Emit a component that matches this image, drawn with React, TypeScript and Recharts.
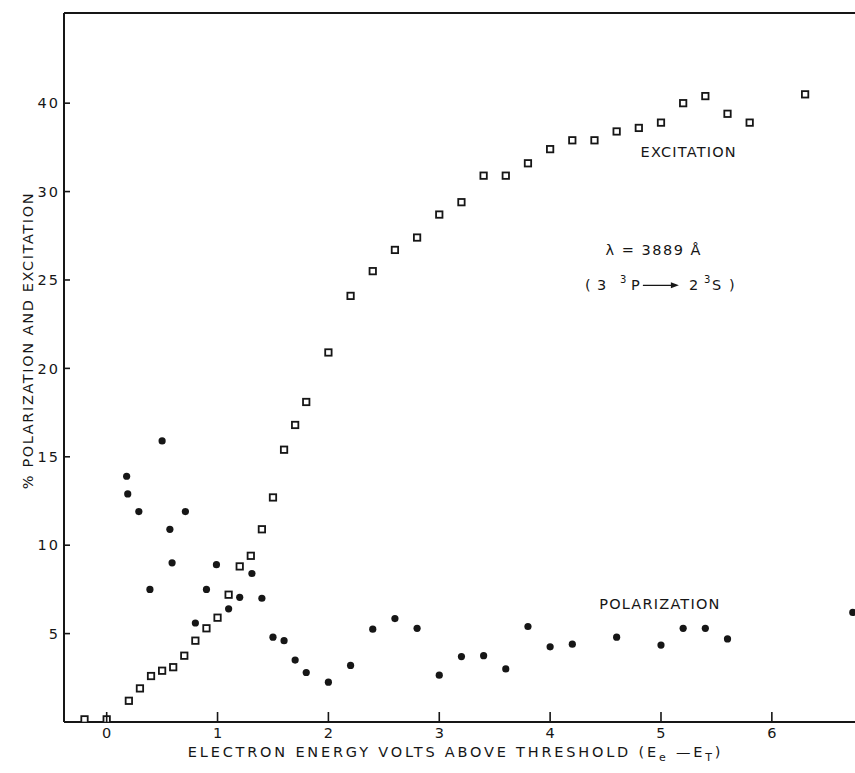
import { ScatterChart, Scatter, XAxis, YAxis, ReferenceLine, ReferenceDot } from 'recharts'

const INK = '#161616'
const FONT = '"DejaVu Sans", sans-serif'

// ── data (y is in plot units: the top tick sits at 35 but is printed "40") ──
const excitationEnergy = [
  -0.2, 0, 0.2, 0.3, 0.4, 0.5, 0.6, 0.7, 0.8, 0.9,
  1.0, 1.1, 1.2, 1.3, 1.4, 1.5, 1.6, 1.7, 1.8,
  2.0, 2.2, 2.4, 2.6, 2.8, 3.0, 3.2, 3.4, 3.6, 3.8, 4.0,
  4.2, 4.4, 4.6, 4.8, 5.0, 5.2, 5.4, 5.6, 5.8, 6.3,
]
const excitationValue = [
  0.15, 0.15, 1.2, 1.9, 2.6, 2.9, 3.1, 3.75, 4.6, 5.3,
  5.9, 7.2, 8.8, 9.4, 10.9, 12.7, 15.4, 16.8, 18.1,
  20.9, 24.1, 25.5, 26.7, 27.4, 28.7, 29.4, 30.9, 30.9, 31.6, 32.4,
  32.9, 32.9, 33.4, 33.6, 33.9, 35.0, 35.4, 34.4, 33.9, 35.5,
]

const polarizationEnergy = [
  0.18, 0.19, 0.29, 0.39, 0.5, 0.57, 0.59, 0.71, 0.8, 0.9,
  0.99, 1.1, 1.2, 1.31, 1.4, 1.5, 1.6, 1.7, 1.8, 2.0,
  2.2, 2.4, 2.6, 2.8, 3.0, 3.2, 3.4, 3.6, 3.8, 4.0,
  4.2, 4.6, 5.0, 5.2, 5.4, 5.6, 6.73,
]
const polarizationValue = [
  13.9, 12.9, 11.9, 7.5, 15.9, 10.9, 9.0, 11.9, 5.6, 7.5,
  8.9, 6.4, 7.05, 8.4, 7.0, 4.8, 4.6, 3.5, 2.8, 2.25,
  3.2, 5.25, 5.85, 5.3, 2.65, 3.7, 3.75, 3.0, 5.4, 4.25,
  4.4, 4.8, 4.35, 5.3, 5.3, 4.7, 6.2,
]

const xTicks = [0, 1, 2, 3, 4, 5, 6]
const yTicks = [5, 10, 15, 20, 25, 30, 35]
const yTickLabels = ['5', '10', '15', '20', '25', '30', '40']

const X_DOMAIN: [number, number] = [-0.385, 6.75]
const Y_DOMAIN: [number, number] = [0, 40.1]

const excitation = excitationEnergy.map((e, i) => ({ e, v: excitationValue[i] }))
const polarization = polarizationEnergy.map((e, i) => ({ e, v: polarizationValue[i] }))

// ── markers ──
const OpenSquare = (p: any) => (
  <rect x={p.cx - 3.2} y={p.cy - 3.2} width={6.4} height={6.4} fill="#fff" stroke={INK} strokeWidth={1.8} />
)
const Dot = (p: any) => <circle cx={p.cx} cy={p.cy} r={3.6} fill={INK} />

// ── ticks drawn inward, like the original ──
const XTick = (p: any) => (
  <g>
    <line x1={p.x} y1={p.y} x2={p.x} y2={p.y - 10} stroke={INK} strokeWidth={1.6} />
    <text x={p.x} y={p.y + 16} textAnchor="middle" fontSize={14.5} fill={INK} fontFamily={FONT}>
      {p.payload.value}
    </text>
  </g>
)
const YTick = (p: any) => {
  const idx = yTicks.indexOf(p.payload.value)
  return (
    <g>
      <line x1={p.x} y1={p.y} x2={p.x + 6} y2={p.y} stroke={INK} strokeWidth={1.6} />
      <text x={p.x - 4} y={p.y} dy="0.36em" textAnchor="end" fontSize={14.5} letterSpacing={2} fill={INK} fontFamily={FONT}>
        {yTickLabels[idx]}
      </text>
    </g>
  )
}

const XTitle = (p: any) => {
  const vb = p.viewBox
  return (
    <text x={vb.x + vb.width / 2 - 4} y={vb.y + 35} textAnchor="middle" fontSize={14.5} letterSpacing={2.8} fill={INK} fontFamily={FONT}>
      ELECTRON ENERGY VOLTS ABOVE THRESHOLD (E<tspan fontSize={11} dy={4}>e</tspan>
      <tspan dy={-4}> —E</tspan><tspan fontSize={11} dy={4}>T</tspan><tspan dy={-4}>)</tspan>
    </text>
  )
}
const YTitle = (p: any) => {
  const vb = p.viewBox
  const cx = 28
  const cy = vb.y + vb.height / 2 - 27
  return (
    <text x={cx} y={cy} transform={`rotate(-90 ${cx} ${cy})`} textAnchor="middle" dominantBaseline="central"
      fontSize={14.5} letterSpacing={1.6} fill={INK} fontFamily={FONT}>
      % POLARIZATION AND EXCITATION
    </text>
  )
}

// ── annotations anchored to data coordinates ──
const textProps = { fontSize: 14.5, fill: INK, fontFamily: FONT }
const ExcitationLabel = (p: any) => (
  <text x={p.cx} y={p.cy} textAnchor="middle" dominantBaseline="central" letterSpacing={1.2} {...textProps}>EXCITATION</text>
)
const PolarizationLabel = (p: any) => (
  <text x={p.cx} y={p.cy} textAnchor="middle" dominantBaseline="central" letterSpacing={1.2} {...textProps}>POLARIZATION</text>
)
const LambdaLabel = (p: any) => (
  <text x={p.cx - 51} y={p.cy + 5} letterSpacing={1.5} {...textProps}>λ = 3889 Å</text>
)
const TransitionLabel = (p: any) => {
  const x = p.cx
  const y = p.cy + 5
  return (
    <g>
      <text x={x - 75} y={y} {...textProps}>(</text>
      <text x={x - 63} y={y} {...textProps}>3</text>
      <text x={x - 40} y={y - 7} {...textProps} fontSize={10}>3</text>
      <text x={x - 29} y={y} {...textProps}>P</text>
      <line x1={x - 17} y1={y - 5} x2={x + 16} y2={y - 5} stroke={INK} strokeWidth={1.2} />
      <polygon points={`${x + 19},${y - 5} ${x + 11},${y - 8} ${x + 11},${y - 2}`} fill={INK} />
      <text x={x + 29} y={y} {...textProps}>2</text>
      <text x={x + 44} y={y - 7} {...textProps} fontSize={10}>3</text>
      <text x={x + 52} y={y} {...textProps}>S</text>
      <text x={x + 69} y={y} {...textProps}>)</text>
    </g>
  )
}

export default function App() {
  return (
    <div style={{ position: 'absolute', left: 0, top: 0, width: 855, height: 773, background: '#fff' }}>
      <ScatterChart width={855} height={773} margin={{ top: 13, right: 0, bottom: 0, left: 0 }}>
        <XAxis
          type="number" dataKey="e" domain={X_DOMAIN} ticks={xTicks} allowDataOverflow
          height={51} tickSize={0} tickMargin={0} tickLine={false} tick={<XTick />}
          axisLine={{ stroke: INK, strokeWidth: 2 }} label={XTitle}
        />
        <YAxis
          type="number" dataKey="v" domain={Y_DOMAIN} ticks={yTicks} allowDataOverflow
          width={64} tickSize={0} tickMargin={0} tickLine={false} tick={<YTick />}
          axisLine={{ stroke: INK, strokeWidth: 2 }} label={YTitle}
        />
        <ReferenceLine y={Y_DOMAIN[1]} stroke={INK} strokeWidth={2} />
        <Scatter data={excitation} shape={OpenSquare} isAnimationActive={false} />
        <Scatter data={polarization} shape={Dot} isAnimationActive={false} />
        <ReferenceDot x={5.25} y={32.24} shape={ExcitationLabel} />
        <ReferenceDot x={4.99} y={6.67} shape={PolarizationLabel} />
        <ReferenceDot x={4.96} y={26.7} shape={LambdaLabel} />
        <ReferenceDot x={4.99} y={24.7} shape={TransitionLabel} />
      </ScatterChart>
    </div>
  )
}
